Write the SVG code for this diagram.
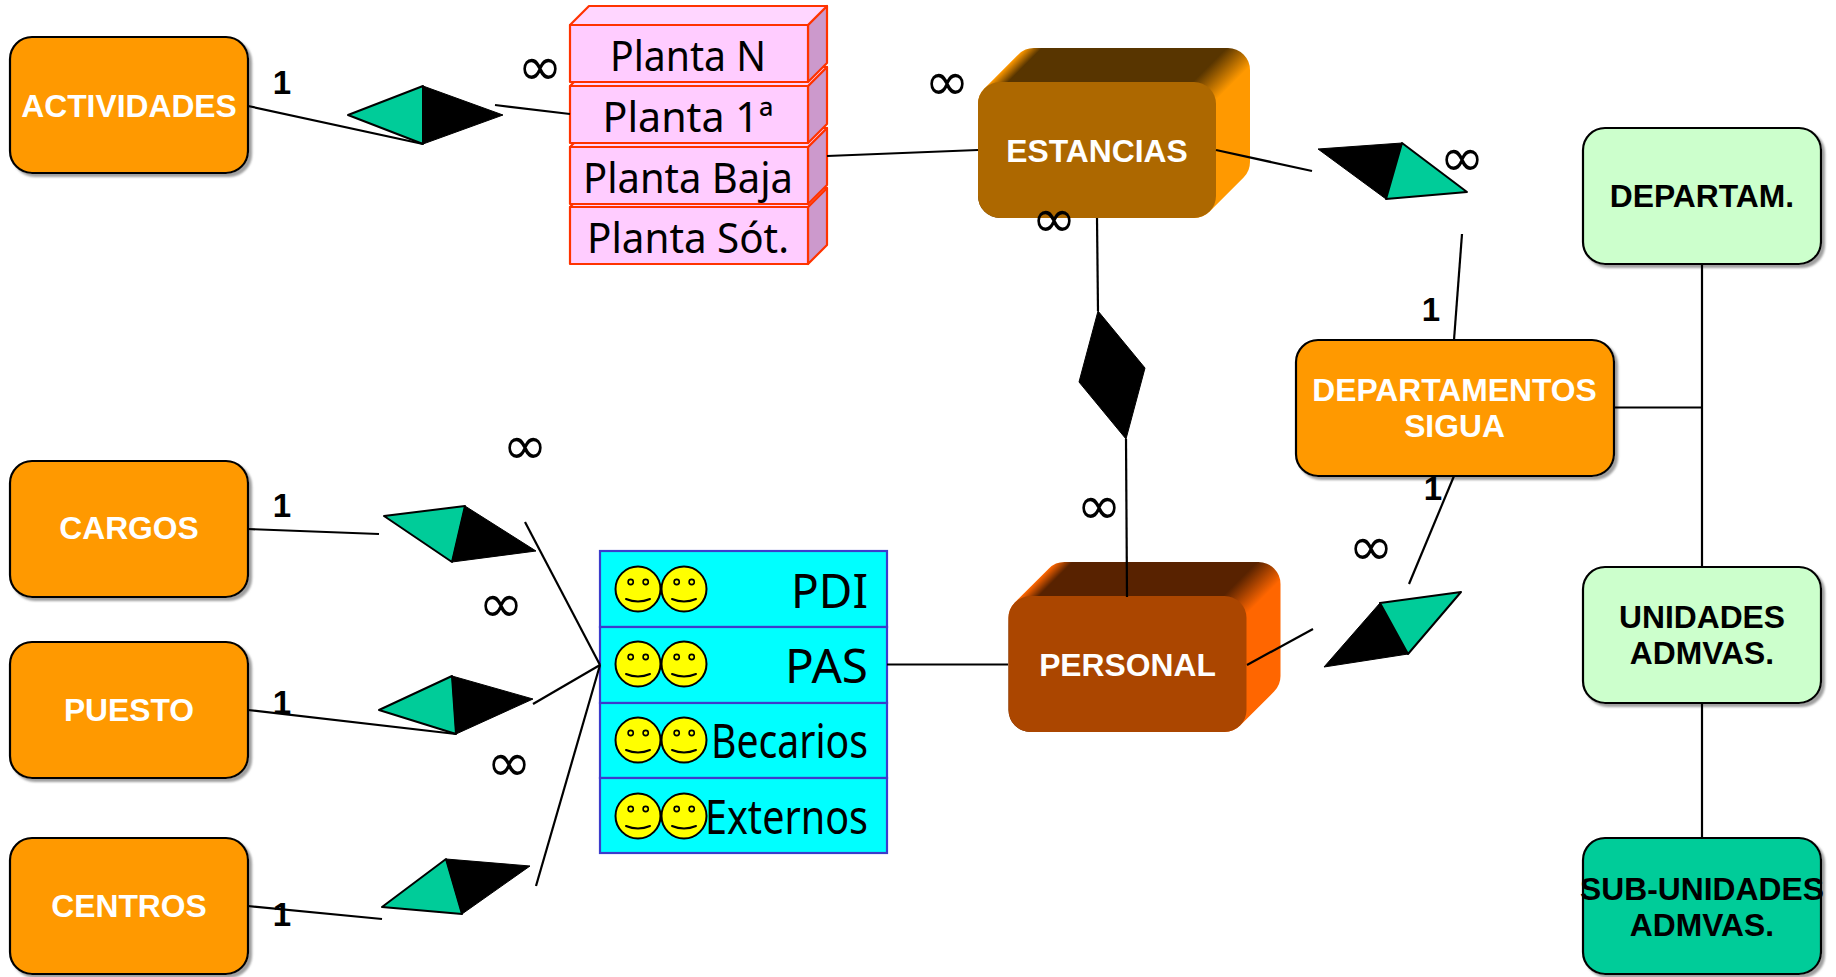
<svg xmlns="http://www.w3.org/2000/svg" width="1836" height="977" viewBox="0 0 1836 977">
<style>
text{font-family:"Liberation Sans",Arial,sans-serif}
.box{stroke:#000;stroke-width:2.2;filter:url(#sh)}
.or{fill:#f90}.lg{fill:#cfc}.tl{fill:#0c9}
.lb{font-weight:700;font-size:31.8px;text-anchor:middle}
.w{fill:#fff}.k{fill:#000}
.one{font-weight:700;font-size:33px;text-anchor:middle;fill:#000}
.inf{font-family:"DejaVu Sans",sans-serif;font-size:54px;text-anchor:middle;fill:#000}
#links line{stroke:#000;stroke-width:2.2}
.dg{fill:#0c9;stroke:#000;stroke-width:2;stroke-linejoin:round}
.dk{fill:#000;stroke:#000;stroke-width:1;stroke-linejoin:round}
.fl{fill:#fcf;stroke:#f30;stroke-width:2.2;stroke-linejoin:round}
.fs{fill:#c9c;stroke:#f30;stroke-width:2.2;stroke-linejoin:round}
.ft{fill:#ffd6ff;stroke:#f30;stroke-width:2.2;stroke-linejoin:round}
.pt{font-family:"Noto Sans",sans-serif;font-size:42px;text-anchor:middle;fill:#000}
.tr{fill:#0ff;stroke:#3c3ccc;stroke-width:2.2}
.tt{font-family:"Noto Sans",sans-serif;font-size:48px;text-anchor:end;fill:#000}
.fc{fill:#ff0;stroke:#000;stroke-width:2}
.ey{fill:#ff0;stroke:#000;stroke-width:1.6}
.mo{fill:none;stroke:#000;stroke-width:2;stroke-linecap:round}
</style>
<defs>
<filter id="sh" x="-5%" y="-5%" width="112%" height="115%"><feDropShadow dx="3" dy="3" stdDeviation="1" flood-color="#888" flood-opacity="0.8"/></filter>
<linearGradient id="g1" gradientUnits="userSpaceOnUse" x1="23.5" y1="23.5" x2="145" y2="145"><stop offset="0" stop-color="#f90"/><stop offset="0.07" stop-color="#583500"/><stop offset="0.83" stop-color="#583500"/><stop offset="1" stop-color="#f90"/></linearGradient>
<linearGradient id="g2" gradientUnits="userSpaceOnUse" x1="23.5" y1="23.5" x2="145" y2="145"><stop offset="0" stop-color="#f60"/><stop offset="0.07" stop-color="#582200"/><stop offset="0.83" stop-color="#582200"/><stop offset="1" stop-color="#f60"/></linearGradient>
<path id="hull" d="M56 0H250A22 22 0 0 1 272 22V114A22 22 0 0 1 265.6 129.6L231.6 163.6A22 22 0 0 1 216 170H22A22 22 0 0 1 0 148V56A22 22 0 0 1 6.4 40.4L40.4 6.4A22 22 0 0 1 56 0Z"/>
<g id="face">
<circle class="fc" r="22.5"/><circle class="ey" cx="-7.3" cy="-7" r="2.6"/><circle class="ey" cx="7.7" cy="-7" r="2.6"/>
<path class="mo" d="M-12 10Q0 15 12 10"/>
</g>
</defs>
<rect width="1836" height="977" fill="#fff"/>
<g id="rel-actividades"><polygon class="dg" points="348,115 423,86 423,144"/><polygon class="dk" points="423,86 503,115 423,144"/></g>
<g id="rel-departamentos"><polygon class="dk" points="1318,149 1402,143 1386,199"/><polygon class="dg" points="1402,143 1467,192 1386,199"/></g>
<g id="rel-estancias-personal"><polygon class="dk" points="1098,311 1145,368 1126,439 1079,382"/></g>
<g id="rel-cargos"><polygon class="dg" points="384,516 465,506 452,562"/><polygon class="dk" points="465,506 536,551 452,562"/></g>
<g id="rel-puesto"><polygon class="dg" points="379,710 452,676 456,734"/><polygon class="dk" points="452,676 533,699 456,734"/></g>
<g id="rel-centros"><polygon class="dg" points="382,907 446,859 462,914"/><polygon class="dk" points="446,859 530,866 462,914"/></g>
<g id="rel-personal"><polygon class="dk" points="1324,667 1380,603 1408,654"/><polygon class="dg" points="1380,603 1461,592 1408,654"/></g>
<g id="actividades"><rect class="box or" x="10" y="37" width="238" height="136" rx="22"/><text class="lb w" x="129" y="117">ACTIVIDADES</text></g>
<g id="cargos"><rect class="box or" x="10" y="461" width="238" height="136" rx="22"/><text class="lb w" x="129" y="539">CARGOS</text></g>
<g id="puesto"><rect class="box or" x="10" y="642" width="238" height="136" rx="22"/><text class="lb w" x="129" y="721">PUESTO</text></g>
<g id="centros"><rect class="box or" x="10" y="838" width="238" height="136" rx="22"/><text class="lb w" x="129" y="917">CENTROS</text></g>
<g id="plantas">
<polygon class="fs" points="808,207 827,188 827,245 808,264"/><polygon class="ft" points="570,207 589,188 827,188 808,207"/><rect class="fl" x="570" y="207" width="238" height="57"/>
<polygon class="fs" points="808,147 827,128 827,185 808,204"/><polygon class="ft" points="570,147 589,128 827,128 808,147"/><rect class="fl" x="570" y="147" width="238" height="57"/>
<polygon class="fs" points="808,86 827,67 827,124 808,143"/><polygon class="ft" points="570,86 589,67 827,67 808,86"/><rect class="fl" x="570" y="86" width="238" height="57"/>
<polygon class="fs" points="808,25 827,6 827,63 808,82"/><polygon class="ft" points="570,25 589,6 827,6 808,25"/><rect class="fl" x="570" y="25" width="238" height="57"/>
<text class="pt" x="688" y="71" textLength="156" lengthAdjust="spacingAndGlyphs">Planta N</text>
<text class="pt" x="688" y="132" textLength="171" lengthAdjust="spacingAndGlyphs">Planta 1ª</text>
<text class="pt" x="688" y="193" textLength="210" lengthAdjust="spacingAndGlyphs">Planta Baja</text>
<text class="pt" x="688" y="253" textLength="202" lengthAdjust="spacingAndGlyphs">Planta Sót.</text>
</g>
<g id="estancias" transform="translate(978 48)"><use href="#hull" fill="url(#g1)"/><rect x="0" y="34" width="238" height="136" rx="22" fill="#ad6800"/><text class="lb w" x="119" y="114">ESTANCIAS</text></g>
<g id="personal" transform="translate(1008.500 562)"><use href="#hull" fill="url(#g2)"/><rect x="0" y="34" width="238" height="136" rx="22" fill="#ab4600"/><text class="lb w" x="119" y="114">PERSONAL</text></g>
<g id="tabla">
<rect class="tr" x="600" y="551" width="287" height="76"/><rect class="tr" x="600" y="627" width="287" height="76"/><rect class="tr" x="600" y="703" width="287" height="75"/><rect class="tr" x="600" y="778" width="287" height="75"/>
<use href="#face" x="638" y="589"/><use href="#face" x="684" y="589"/>
<use href="#face" x="638" y="664"/><use href="#face" x="684" y="664"/>
<use href="#face" x="638" y="740"/><use href="#face" x="684" y="740"/>
<use href="#face" x="638" y="816"/><use href="#face" x="684" y="816"/>
<text class="tt" x="868" y="608" textLength="77" lengthAdjust="spacingAndGlyphs">PDI</text><text class="tt" x="868" y="683" textLength="83" lengthAdjust="spacingAndGlyphs">PAS</text><text class="tt" x="868" y="758" textLength="157" lengthAdjust="spacingAndGlyphs">Becarios</text><text class="tt" x="868" y="834" textLength="163" lengthAdjust="spacingAndGlyphs">Externos</text>
</g>
<g id="departamentos-sigua"><rect class="box or" x="1296" y="340" width="318" height="136" rx="22"/><text class="lb w" x="1454.500" y="401">DEPARTAMENTOS</text><text class="lb w" x="1454.500" y="437">SIGUA</text></g>
<g id="departam"><rect class="box lg" x="1583" y="128" width="238" height="136" rx="22"/><text class="lb k" x="1702" y="207">DEPARTAM.</text></g>
<g id="unidades"><rect class="box lg" x="1583" y="567" width="238" height="136" rx="22"/><text class="lb k" x="1702" y="628">UNIDADES</text><text class="lb k" x="1702" y="664">ADMVAS.</text></g>
<g id="sub-unidades"><rect class="box tl" x="1583" y="838" width="238" height="136" rx="22"/><text class="lb k" x="1702" y="900">SUB-UNIDADES</text><text class="lb k" x="1702" y="936">ADMVAS.</text></g>
<g id="links">
<line x1="248" y1="106" x2="423" y2="144"/>
<line x1="495" y1="105" x2="570" y2="114"/>
<line x1="827" y1="156" x2="978" y2="150"/>
<line x1="1216" y1="150" x2="1312" y2="171"/>
<line x1="1462" y1="234" x2="1454" y2="340"/>
<line x1="1097" y1="218" x2="1098" y2="311"/>
<line x1="1126" y1="439" x2="1127" y2="597"/>
<line x1="248" y1="529" x2="379" y2="534"/>
<line x1="525" y1="522" x2="600" y2="665"/>
<line x1="248" y1="710" x2="456" y2="734"/>
<line x1="533" y1="704" x2="600" y2="665"/>
<line x1="248" y1="906" x2="382" y2="919"/>
<line x1="536" y1="886" x2="600" y2="665"/>
<line x1="887" y1="664.500" x2="1008" y2="664.500"/>
<line x1="1247" y1="665" x2="1313" y2="629"/>
<line x1="1409" y1="584" x2="1454" y2="476"/>
<line x1="1614" y1="407.500" x2="1702" y2="407.500"/>
<line x1="1702" y1="264" x2="1702" y2="567"/>
<line x1="1702" y1="703" x2="1702" y2="838"/>
</g>
<g id="labels">
<text class="one" x="282" y="94">1</text><text class="one" x="282" y="517">1</text><text class="one" x="282" y="714">1</text><text class="one" x="282" y="926">1</text><text class="one" x="1431" y="321">1</text><text class="one" x="1433" y="500">1</text>
<text class="inf" x="540" y="85">∞</text><text class="inf" x="947" y="100">∞</text><text class="inf" x="1462" y="176">∞</text><text class="inf" x="1054" y="237">∞</text><text class="inf" x="525" y="464">∞</text><text class="inf" x="501" y="622">∞</text><text class="inf" x="509" y="781">∞</text><text class="inf" x="1099" y="524">∞</text><text class="inf" x="1371" y="565">∞</text>
</g>
</svg>
